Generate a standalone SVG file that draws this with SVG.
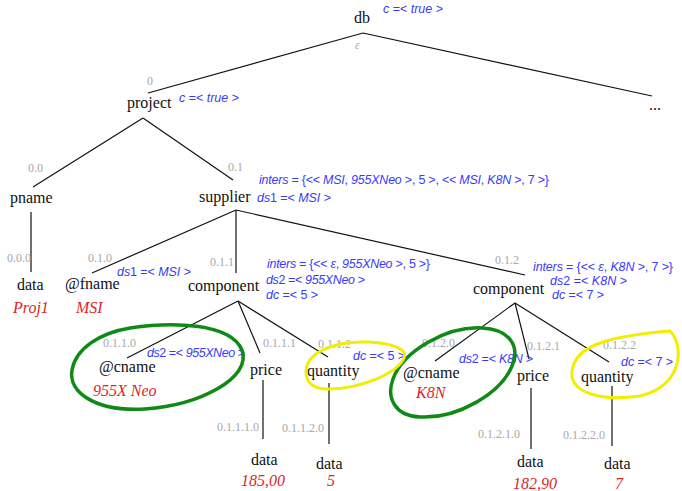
<svg xmlns="http://www.w3.org/2000/svg" width="682" height="491" viewBox="0 0 682 491">
  <style>
    .lbl { font-family: "Liberation Serif", "Times New Roman", serif; font-size: 16px; fill: #111; }
    .val { font-family: "Liberation Serif", "Times New Roman", serif; font-size: 16px; font-style: italic; fill: #dd1f26; }
    .pos { font-family: "Liberation Serif", "Times New Roman", serif; font-size: 12px; fill: #a8a8a8; }
    .ann { font-family: "Liberation Sans", Arial, sans-serif; font-size: 12.5px; fill: #3a3aff; }
    .ann .v { font-style: italic; }
    .edge { stroke: #111; stroke-width: 1.2; fill: none; }
    .green { stroke: #0f8a16; stroke-width: 3.5; fill: none; }
    .yellow { stroke: #f2ee00; stroke-width: 3; fill: none; }
  </style>

  <!-- tree edges -->
  <g id="connectors">
    <line class="edge" x1="363" y1="33" x2="148" y2="93"/>
    <line class="edge" x1="363" y1="33" x2="652" y2="96"/>
    <line class="edge" x1="143" y1="118" x2="33" y2="187"/>
    <line class="edge" x1="143" y1="118" x2="233" y2="180"/>
    <line class="edge" x1="31" y1="212" x2="31" y2="272"/>
    <line class="edge" x1="236" y1="210" x2="92" y2="273"/>
    <line class="edge" x1="236" y1="210" x2="236" y2="273"/>
    <line class="edge" x1="236" y1="210" x2="525" y2="275"/>
    <line class="edge" x1="238" y1="301" x2="127" y2="358"/>
    <line class="edge" x1="238" y1="301" x2="260" y2="353"/>
    <line class="edge" x1="238" y1="301" x2="328" y2="357"/>
    <line class="edge" x1="515" y1="303" x2="435" y2="361"/>
    <line class="edge" x1="515" y1="303" x2="529" y2="359"/>
    <line class="edge" x1="515" y1="303" x2="609" y2="362"/>
    <line class="edge" x1="263" y1="380" x2="263" y2="439"/>
    <line class="edge" x1="329" y1="383" x2="329" y2="444"/>
    <line class="edge" x1="531" y1="388" x2="531" y2="449"/>
    <line class="edge" x1="612" y1="386" x2="612" y2="446"/>
  </g>

  <g id="n-db">
    <text class="lbl" x="354" y="23">db</text>
    <text class="pos" x="355" y="49" font-size="10" font-style="italic">ε</text>
    <text class="ann" x="383" y="13" textLength="60"><tspan class="v">c</tspan> =&lt; <tspan class="v">true</tspan> &gt;</text>
  </g>

  <g id="n-project">
    <text class="pos" x="147" y="85">0</text>
    <text class="lbl" x="127" y="108">project</text>
    <text class="ann" x="179" y="102" textLength="60"><tspan class="v">c</tspan> =&lt; <tspan class="v">true</tspan> &gt;</text>
  </g>

  <g id="n-more">
    <text class="lbl" x="649" y="110">...</text>
  </g>

  <g id="n-pname">
    <text class="pos" x="28" y="172">0.0</text>
    <text class="lbl" x="10" y="203">pname</text>
  </g>

  <g id="n-pname-data">
    <text class="pos" x="7" y="262">0.0.0</text>
    <text class="lbl" x="17" y="290">data</text>
    <text class="val" x="13" y="313">Proj1</text>
  </g>

  <g id="n-supplier">
    <text class="pos" x="228" y="171">0.1</text>
    <text class="lbl" x="199" y="202">supplier</text>
    <text class="ann" x="259" y="184" textLength="290"><tspan class="v">inters</tspan> = {&lt;&lt; <tspan class="v">MSI</tspan>, <tspan class="v">955XNeo</tspan> &gt;, 5 &gt;, &lt;&lt; <tspan class="v">MSI</tspan>, <tspan class="v">K8N</tspan> &gt;, 7 &gt;}</text>
    <text class="ann" x="257" y="202" textLength="74"><tspan class="v">ds</tspan>1 =&lt; <tspan class="v">MSI</tspan> &gt;</text>
  </g>

  <g id="n-fname">
    <text class="pos" x="88" y="262">0.1.0</text>
    <text class="lbl" x="65" y="289">@fname</text>
    <text class="val" x="76" y="313">MSI</text>
    <text class="ann" x="117" y="276" textLength="74"><tspan class="v">ds</tspan>1 =&lt; <tspan class="v">MSI</tspan> &gt;</text>
  </g>

  <g id="n-component-1">
    <text class="pos" x="210" y="266">0.1.1</text>
    <text class="lbl" x="188" y="291">component</text>
    <text class="ann" x="267" y="268" textLength="163"><tspan class="v">inters</tspan> = {&lt;&lt; <tspan class="v">ε</tspan>, <tspan class="v">955XNeo</tspan> &gt;, 5 &gt;}</text>
    <text class="ann" x="266" y="284" textLength="99"><tspan class="v">ds</tspan>2 =&lt; <tspan class="v">955XNeo</tspan> &gt;</text>
    <text class="ann" x="266" y="299" textLength="52"><tspan class="v">dc</tspan> =&lt; 5 &gt;</text>
  </g>

  <g id="n-component-2">
    <text class="pos" x="495" y="264">0.1.2</text>
    <text class="lbl" x="473" y="294">component</text>
    <text class="ann" x="533" y="271" textLength="140"><tspan class="v">inters</tspan> = {&lt;&lt; <tspan class="v">ε</tspan>, <tspan class="v">K8N</tspan> &gt;, 7 &gt;}</text>
    <text class="ann" x="550" y="285" textLength="77"><tspan class="v">ds</tspan>2 =&lt; <tspan class="v">K8N</tspan> &gt;</text>
    <text class="ann" x="552" y="299" textLength="52"><tspan class="v">dc</tspan> =&lt; 7 &gt;</text>
  </g>

  <g id="n-cname-1">
    <text class="pos" x="103" y="347">0.1.1.0</text>
    <text class="lbl" x="99" y="372">@cname</text>
    <text class="val" x="93" y="396">955X Neo</text>
    <text class="ann" x="147" y="357" textLength="98"><tspan class="v">ds</tspan>2 =&lt; <tspan class="v">955XNeo</tspan> &gt;</text>
  </g>

  <g id="n-price-1">
    <text class="pos" x="263" y="347">0.1.1.1</text>
    <text class="lbl" x="250" y="375">price</text>
  </g>

  <g id="n-quantity-1">
    <text class="pos" x="318" y="348">0.1.1.2</text>
    <text class="lbl" x="307" y="376">quantity</text>
    <text class="ann" x="353" y="360" textLength="52"><tspan class="v">dc</tspan> =&lt; 5 &gt;</text>
  </g>

  <g id="n-price-1-data">
    <text class="pos" x="217" y="431">0.1.1.1.0</text>
    <text class="lbl" x="251" y="465">data</text>
    <text class="val" x="241" y="486">185,00</text>
  </g>

  <g id="n-quantity-1-data">
    <text class="pos" x="282" y="432">0.1.1.2.0</text>
    <text class="lbl" x="316" y="469">data</text>
    <text class="val" x="327" y="486">5</text>
  </g>

  <g id="n-cname-2">
    <text class="pos" x="422" y="347">0.1.2.0</text>
    <text class="lbl" x="403" y="378">@cname</text>
    <text class="val" x="416" y="398">K8N</text>
    <text class="ann" x="459" y="363" textLength="74"><tspan class="v">ds</tspan>2 =&lt; <tspan class="v">K8N</tspan> &gt;</text>
  </g>

  <g id="n-price-2">
    <text class="pos" x="527" y="350">0.1.2.1</text>
    <text class="lbl" x="517" y="381">price</text>
  </g>

  <g id="n-quantity-2">
    <text class="pos" x="603" y="349">0.1.2.2</text>
    <text class="lbl" x="581" y="382">quantity</text>
    <text class="ann" x="621" y="366" textLength="52"><tspan class="v">dc</tspan> =&lt; 7 &gt;</text>
  </g>

  <g id="n-price-2-data">
    <text class="pos" x="478" y="438">0.1.2.1.0</text>
    <text class="lbl" x="517" y="467">data</text>
    <text class="val" x="513" y="489">182,90</text>
  </g>

  <g id="n-quantity-2-data">
    <text class="pos" x="563" y="439">0.1.2.2.0</text>
    <text class="lbl" x="604" y="469">data</text>
    <text class="val" x="615" y="489">7</text>
  </g>

  <!-- hand-drawn highlight rings -->
  <g id="highlights">
    <path class="green" d="M 130 328 C 170 322, 230 322, 242 350 C 252 378, 200 405, 145 409 C 95 412, 68 392, 72 370 C 76 348, 100 333, 130 328 Z"/>
    <path class="green" d="M 482 328 C 508 329, 521 345, 512 366 C 501 393, 458 419, 420 417 C 395 416, 386 398, 393 379 C 403 351, 447 326, 482 328 Z"/>
    <path class="yellow" d="M 306 372 C 306 352, 335 341, 367 342 C 390 343, 408 348, 404 358 C 398 372, 365 388, 330 389 C 313 390, 306 382, 306 372 Z"/>
    <path class="yellow" d="M 670 331 C 684 345, 684 385, 640 396 C 600 402, 570 392, 572 372 C 574 345, 610 336, 670 331 Z"/>
  </g>
</svg>
